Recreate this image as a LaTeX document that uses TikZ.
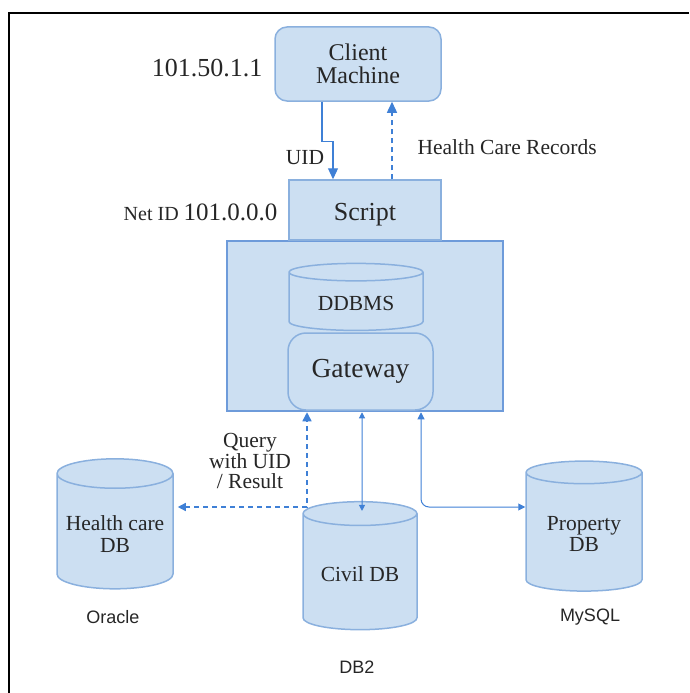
\documentclass[tikz,border=0pt]{standalone}
\usepackage{fontspec}
\setmainfont{Liberation Serif}
\setsansfont{Liberation Sans}
\usetikzlibrary{shapes.geometric,arrows.meta,calc}
\definecolor{boxfill}{HTML}{CCDFF2}
\definecolor{boxline}{HTML}{8AB0DE}
\definecolor{coreline}{HTML}{6E9BDA}
\definecolor{arrowblue}{HTML}{3F80D6}
\definecolor{dashblue}{HTML}{8FB0DC}
\definecolor{txt}{HTML}{262626}
\newcommand{\fs}[1]{\fontsize{#1}{#1}\selectfont}

\begin{document}
\begin{tikzpicture}[x=1pt,y=-1pt,every node/.style={text=txt},
  box/.style={draw=boxline,fill=boxfill,line width=1.5pt},
  db/.style={shape=cylinder,shape border rotate=90,aspect=0.28,draw=boxline,fill=boxfill,line width=1.5pt,align=center},
  lbl/.style={font=\fs{21.5},align=center},
  tag/.style={font=\sffamily\fs{18}},
  flow/.style={draw=arrowblue,line width=1.2pt,-{Triangle[length=11pt,width=10pt]}},
  link/.style={draw=arrowblue,line width=1pt},
  back/.style={draw=dashblue,line width=1.4pt,dash pattern=on 5pt off 4pt}
  ]
    \useasboundingbox (0,0) rectangle (689,693);
    \draw[line width=2.5pt] (9,693) -- (9,13) -- (689,13);

    % client side
    \node[box,rounded corners=12pt,minimum width=166pt,minimum height=74pt,align=center,font=\fs{24}] (client) at (358,64) {Client\\[-1pt]Machine};
    \node[anchor=east,font=\fs{26}] (clientip) at (266,68) {101.50.1.1};

    % server
    \node[draw=coreline,fill=boxfill,line width=2.5pt,minimum width=276pt,minimum height=170pt] (core) at (365,326) {};
    \node[box,minimum width=152pt,minimum height=60pt,font=\fs{26},text height=27pt,text depth=6pt] (script) at (365,210) {Script};
    \node[anchor=east] (netid) at (281,212) {\fs{20}Net ID \fs{25}101.0.0.0};
    \node[db,minimum width=134pt,minimum height=67pt,font=\fs{21.5},aspect=0.21] (ddbms) at (356,303) {DDBMS};
    \node[box,rounded corners=18pt,minimum width=145pt,minimum height=77pt,font=\fs{27.5}] (gateway) at (360.5,371.5) {Gateway};

    % databases
    \node[db,minimum width=116pt,minimum height=130pt,lbl] (hcdb) at (115,534) {Health care\\DB};
    \node[db,minimum width=114pt,minimum height=128pt,lbl] (civdb) at (360,574) {Civil DB};
    \node[db,minimum width=116pt,minimum height=130pt,lbl] (propdb) at (584,534) {Property\\DB};
    \node[tag] (oracle) at (113,617) {Oracle};
    \node[tag] (db2) at (357,667) {DB2};
    \node[tag] (mysql) at (590,617) {MySQL};

    % client <-> script
    \draw[flow] ($(client.south)+(-36,0)$) -- ++(0,40) -- ++(11,0) -- ($(script.north)+(-32,0)$);
    \node[lbl] (uid) at (305,158) {UID};
    \draw[back,-{Triangle[length=11pt,width=10pt]},arrowblue] ($(script.north)+(27,0)$) -- ($(client.south)+(34,0)$);
    \node[lbl,anchor=west] (hcr) at (414,147) {Health Care Records};

    % gateway <-> databases
    \draw[back,{Triangle[length=8pt,width=8pt]}-{Triangle[length=9pt,width=9pt]},arrowblue] ($(hcdb.east)+(4,-27)$) -| ($(core.south)+(-58,0)$);
    \node[lbl,font=\fs{21.5},inner sep=0pt] (query) at (250,461) {Query\\[-1pt]with UID\\[-1pt]/ Result};
    \draw[link,{Triangle[length=6pt,width=6pt]}-{Triangle[length=6pt,width=6pt]}] ($(core.south)+(-3,0)$) -- ($(civdb.north)+(2,10)$);
    \draw[link,rounded corners=8pt,{Triangle[length=7pt,width=7pt]}-{Triangle[length=7pt,width=7pt]}] ($(core.south)+(56,0)$) |- ($(propdb.west)+(0,-27)$);
\end{tikzpicture}
\end{document}
